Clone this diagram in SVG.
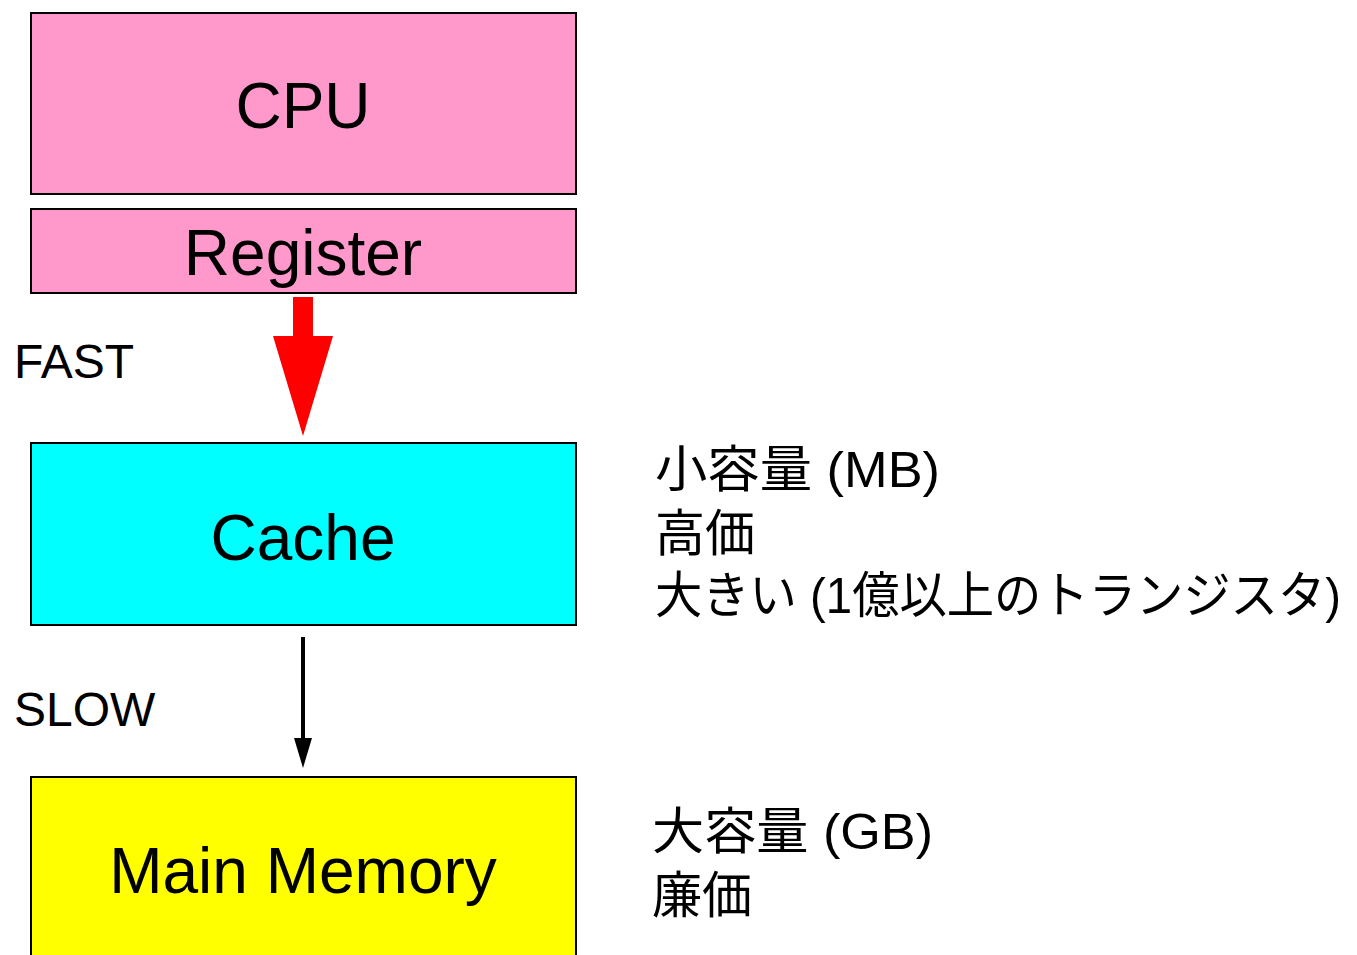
<svg xmlns="http://www.w3.org/2000/svg" width="1357" height="955" viewBox="0 0 1357 955">
<style>
.box{stroke:#000;stroke-width:2}
.lbl{font-family:"Liberation Sans",Arial,sans-serif;font-size:64px;text-anchor:middle;fill:#000}
.side{font-family:"Liberation Sans",Arial,sans-serif;font-size:48px;fill:#000}
.jp{font-family:"Liberation Sans","Noto Sans CJK JP",sans-serif;font-size:50px;fill:#000}
</style>
<rect width="1357" height="955" fill="#fff"/>
<g id="cpu"><rect class="box" x="31" y="13" width="545" height="181" fill="#FF99CC"/><text class="lbl" x="303" y="128">CPU</text></g>
<g id="register"><rect class="box" x="31" y="209" width="545" height="84" fill="#FF99CC"/><text class="lbl" x="303" y="275">Register</text></g>
<g id="cache"><rect class="box" x="31" y="443" width="545" height="182" fill="#00FFFF"/><text class="lbl" x="303" y="560">Cache</text></g>
<g id="mainmemory"><rect class="box" x="31" y="777" width="545" height="190" fill="#FFFF00"/><text class="lbl" x="303" y="893">Main Memory</text></g>
<g id="connectors">
<polygon points="293,297 313,297 313,336 333,336 303,436 273,336 293,336" fill="#FF0000"/>
<line x1="303" y1="637" x2="303" y2="740" stroke="#000" stroke-width="4"/>
<path d="M294,738 L312,738 L303,768 Z" fill="#000"/>
</g>
<text class="side" x="14" y="378">FAST</text>
<text class="side" x="14" y="726">SLOW</text>
<text class="jp" x="655" y="487" textLength="285" lengthAdjust="spacingAndGlyphs">小容量 (MB)</text>
<text class="jp" x="655" y="551">高価</text>
<text class="jp" x="655" y="613" textLength="686" lengthAdjust="spacingAndGlyphs">大きい (1億以上のトランジスタ)</text>
<text class="jp" x="652" y="849" textLength="281" lengthAdjust="spacingAndGlyphs">大容量 (GB)</text>
<text class="jp" x="652" y="913">廉価</text>
</svg>
